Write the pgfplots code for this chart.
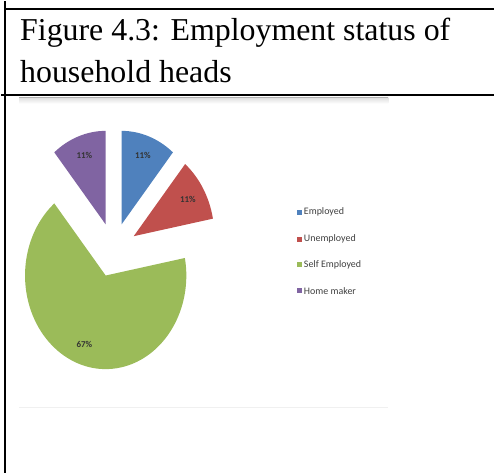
\documentclass[border=0pt]{standalone}
\usepackage{pgfplots}
\usepackage{pgfplotstable}
\pgfplotsset{compat=1.18}
\usepackage{fontspec}
\setmainfont{Liberation Serif}
\newfontfamily\calfont{Carlito}
\definecolor{c0}{HTML}{4F81BD}
\definecolor{c1}{HTML}{C0504D}
\definecolor{c2}{HTML}{9BBB59}
\definecolor{c3}{HTML}{8064A2}

\pgfplotstableread[col sep=comma]{
label,value
Employed,11
Unemployed,11
Self Employed,67
Home maker,11
}\piedata

\begin{document}
\begin{tikzpicture}[x=1pt,y=1pt]
\path (0,0) rectangle (495,474);
% table rules
\draw[line width=2.2pt] (4,0) -- (4,474);
\draw[line width=2.2pt] (4,466) -- (495,466);
\draw[line width=2.2pt] (0,380) -- (495,380);
% chart frame
\fill[top color=gray!25, bottom color=white] (18,371) rectangle (389,377);
\draw[gray!60, line width=1.4pt] (18,377.2) -- (389,377.2);
\draw[gray!12, line width=1.2pt] (18,66) -- (389,66);
% title
\node[anchor=base west, inner sep=0, font=\fontsize{32}{36}\selectfont] at (19,434) {Figure 4.3: Employment status of};
\node[anchor=base west, inner sep=0, font=\fontsize{32}{36}\selectfont] at (19,392) {household heads};
% legend
\foreach \lab/\col/\yy in {Employed/c0/212, Unemployed/c1/239, Self Employed/c2/265, Home maker/c3/291}{
  \fill[\col] (297,{474-\yy-2.5}) rectangle (302,{474-\yy+2.5});
  \node[anchor=west, inner sep=0, font=\calfont\fontsize{10}{11}\selectfont, text=black!75] at (304,{474-\yy}) {\lab};
}
\begin{axis}[hide axis, x=1pt, y=1pt, xmin=-110, xmax=280, ymin=-130, ymax=150,
  clip=false, at={(113,224)}, anchor=origin, scale only axis]
\def\cum{0}
\pgfplotsforeachungrouped \i in {0,1,2,3}{
  \pgfplotstablegetelem{\i}{value}\of\piedata
  \pgfmathtruncatemacro\vi{\pgfplotsretval}
  \pgfmathsetmacro\aa{\cum*3.6}
  \pgfmathsetmacro\ab{(\cum+\vi)*3.6}
  \pgfmathsetmacro\am{(\aa+\ab)/2}
  \pgfmathsetmacro\ox{0.29*81*sin(\am)}
  \pgfmathsetmacro\oy{0.29*94*cos(\am)}
  \pgfmathsetmacro\lx{\ox+0.78*81*sin(\am)}
  \pgfmathsetmacro\ly{\oy+0.78*94*cos(\am)}
  \pgfmathsetmacro\sa{90-\aa}
  \pgfmathsetmacro\sb{90-\ab}
  \edef\doslice{%
    \noexpand\fill[c\i] (axis cs:\ox,\oy) -- ++(\sa:81pt and 94pt)
      arc[start angle=\sa, end angle=\sb, x radius=81pt, y radius=94pt] -- cycle;
    \noexpand\node[font=\noexpand\calfont\noexpand\bfseries\noexpand\fontsize{9}{10}\noexpand\selectfont, text=black!80]
      at (axis cs:\lx,\ly) {\vi\noexpand\%};
  }
  \doslice
  \pgfmathsetmacro\cum{\cum+\vi}
}
\end{axis}
\end{tikzpicture}
\end{document}
